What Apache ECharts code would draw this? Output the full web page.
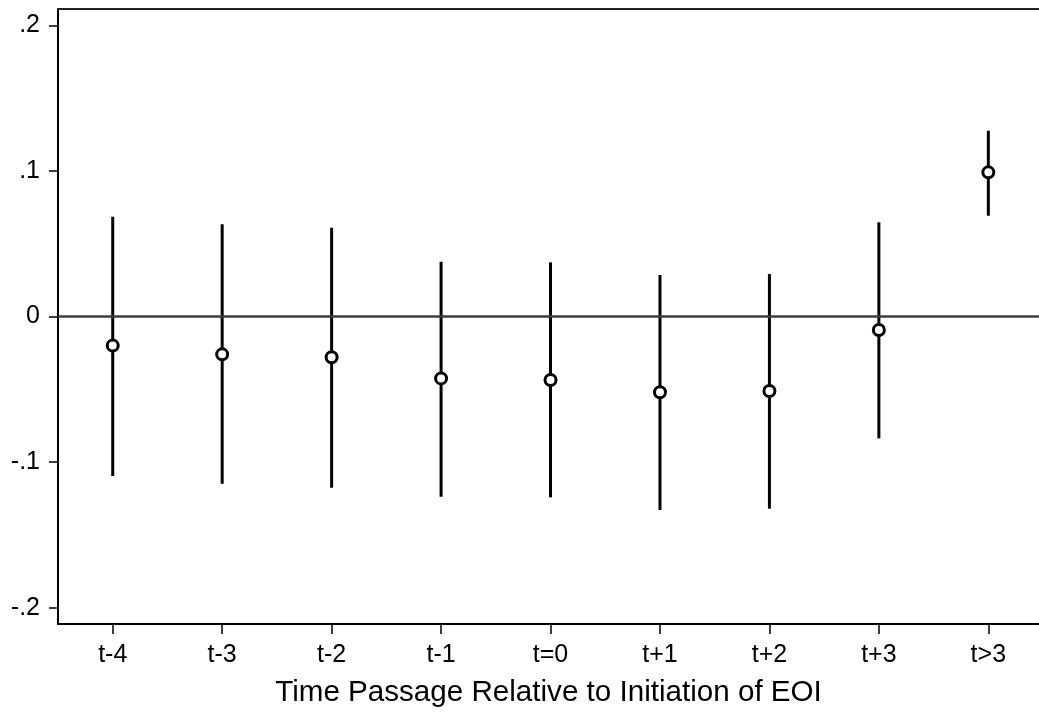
<!DOCTYPE html>
<html>
<head>
<meta charset="utf-8">
<script src="https://cdn.jsdelivr.net/npm/echarts@6/dist/echarts.min.js"></script>
<style>
  html, body { margin: 0; padding: 0; background: #fff; }
  #chart { width: 1039px; height: 715px; }
</style>
</head>
<body>
<div id="chart"></div>
<script>
const categories = ['t-4', 't-3', 't-2', 't-1', 't=0', 't+1', 't+2', 't+3', 't>3']
const estimates = [-0.020, -0.026, -0.028, -0.0425, -0.0436, -0.052, -0.0512, -0.0093, 0.099]
const ciHigh = [0.0685, 0.0633, 0.061, 0.0376, 0.0372, 0.0285, 0.0292, 0.0647, 0.1276]
const ciLow = [-0.1095, -0.1148, -0.1176, -0.1238, -0.1242, -0.1329, -0.132, -0.0837, 0.0692]
const yTicks = [-0.2, -0.1, 0, 0.1, 0.2]

const font = '"Liberation Sans", Arial, Helvetica, sans-serif'
const xTicks = categories.map((c, i) => i)

const fmt = (v) => {
    if (Math.abs(v) < 1e-9) return '0'
    return (v < 0 ? '-' : '') + String(Math.abs(v).toFixed(1)).replace(/^0/, '')
}

const chart = echarts.init(document.getElementById('chart'), null, { renderer: 'canvas' })

chart.setOption({
    backgroundColor: '#fff',
    animation: false,
    grid: {
        left: 58,
        top: 9,
        right: 0,
        bottom: 91
    },
    xAxis: [
        {
            type: 'value',
            // plot runs a little past the right edge of the window
            min: -0.5,
            max: 8.463,
            name: 'Time Passage Relative to Initiation of EOI',
            nameLocation: 'middle',
            nameGap: 54,
            nameTextStyle: {
                fontFamily: font,
                fontSize: 29.6,
                color: '#000'
            },
            axisLine: { onZero: false, lineStyle: { color: '#000', width: 2 } },
            axisTick: {
                length: 10,
                customValues: xTicks,
                lineStyle: { color: '#000', width: 1.5 }
            },
            axisLabel: {
                fontFamily: font,
                fontSize: 25,
                color: '#000',
                margin: 19,
                customValues: xTicks,
                formatter: (v) => categories[Math.round(v)]
            },
            splitLine: { show: false }
        },
        {
            type: 'value',
            position: 'top',
            min: -0.5,
            max: 8.463,
            axisLine: { show: true, onZero: false, lineStyle: { color: '#222', width: 2 } },
            axisTick: { show: false },
            axisLabel: { show: false },
            splitLine: { show: false }
        }
    ],
    yAxis: {
        type: 'value',
        min: -0.2112,
        max: 0.2112,
        axisLine: { show: true, onZero: false, lineStyle: { color: '#000', width: 2 } },
        axisTick: {
            show: true,
            length: 9,
            customValues: yTicks,
            lineStyle: { color: '#000', width: 1.5 }
        },
        axisLabel: {
            fontFamily: font,
            fontSize: 25,
            color: '#000',
            margin: 18,
            customValues: yTicks,
            formatter: fmt
        },
        splitLine: { show: false }
    },
    series: [
        {
            type: 'custom',
            data: categories.map((c, i) => [i, ciLow[i], ciHigh[i]]),
            encode: { x: 0, y: [1, 2] },
            z: 2,
            renderItem: (params, api) => {
                const lo = api.coord([api.value(0), api.value(1)])
                const hi = api.coord([api.value(0), api.value(2)])
                return {
                    type: 'line',
                    shape: { x1: lo[0], y1: lo[1], x2: hi[0], y2: hi[1] },
                    style: { stroke: '#000', lineWidth: 3 }
                }
            }
        },
        {
            type: 'scatter',
            data: estimates.map((v, i) => [i, v]),
            symbol: 'circle',
            symbolSize: 11,
            z: 3,
            itemStyle: {
                color: '#fff',
                borderColor: '#000',
                borderWidth: 3,
                opacity: 1
            },
            markLine: {
                silent: true,
                symbol: ['none', 'none'],
                label: { show: false },
                lineStyle: { color: '#3c3c3c', width: 2.5, type: 'solid' },
                data: [{ yAxis: 0 }]
            }
        }
    ]
})
</script>
</body>
</html>
